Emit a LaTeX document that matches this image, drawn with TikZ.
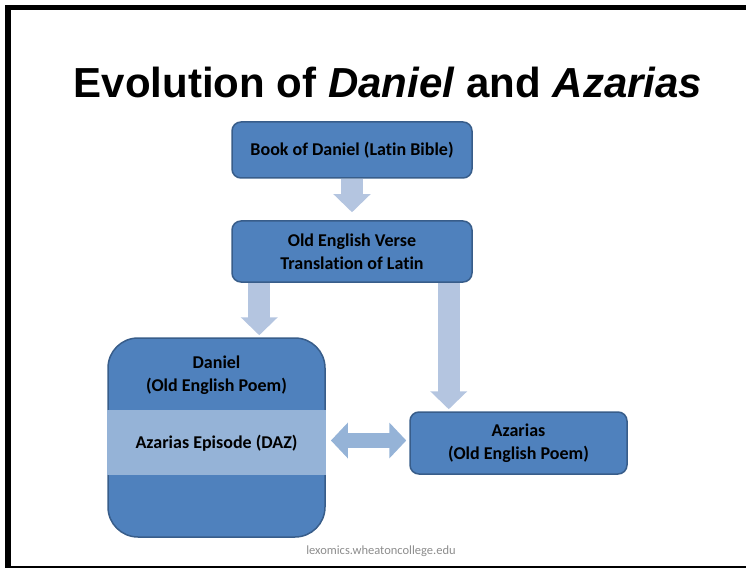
\documentclass[tikz,border=0pt]{standalone}
\usepackage{fontspec}
\setmainfont{Carlito}[Ligatures=NoCommon]
\newfontfamily\titlefont{Liberation Sans}
\usetikzlibrary{arrows.meta, positioning, calc}

\definecolor{boxblue}{HTML}{4F81BD}
\definecolor{boxline}{HTML}{385D8A}
\definecolor{bandblue}{HTML}{95B3D7}
\definecolor{arrowblue}{HTML}{B4C5E0}
\definecolor{footgray}{HTML}{8C8C8C}

\tikzset{
	boxfont/.style={font=\fontsize{18}{23}\selectfont\bfseries},
	box/.style={draw=boxline, fill=boxblue, line width=1.5pt, rounded corners=9pt,
		align=center, boxfont, inner sep=0pt},
	bigarrow/.style={draw=arrowblue, line width=22pt, -{Triangle[width=36pt,length=18pt]}},
	twoarrow/.style={draw=bandblue, line width=15pt,
		{Triangle[width=35pt,length=17pt]}-{Triangle[width=35pt,length=17pt]}}
}

\begin{document}
\begin{tikzpicture}[x=1pt, y=-1pt]
		\useasboundingbox (0,0) rectangle (746,569);
		
		% Frame
		\fill (5,5) rectangle (746,10.5);
		\fill (5,5) rectangle (11,567);
		\draw[line width=1.5pt] (5,567) -- (746,567);
		
		% Title
		\node (title) at (388,82) {\titlefont\fontsize{42}{50}\selectfont\bfseries Evolution of \textit{Daniel} and \textit{Azarias}};
		
		% Boxes
		\node[box, minimum width=240pt, minimum height=56pt] (latin) at (352,150) {Book of Daniel (Latin Bible)};
		\node[box, minimum width=240pt, minimum height=61pt] (verse) at (352,251.5) {Old English Verse\\Translation of Latin};
		\node[box, rounded corners=30pt, minimum width=217pt, minimum height=199pt] (daniel) at (216.5,437.5) {};
		\node[fill=bandblue, minimum width=218.5pt, minimum height=65pt, inner sep=0pt] (daz) at (216.5,442.5) {};
		\node[align=center, boxfont] (danieltext) at (216.5,375) {Daniel\\(Old English Poem)};
		\node[boxfont] (daztext) at (216.5,443) {Azarias Episode (DAZ)};
		\node[box, minimum width=217pt, minimum height=62pt] (azarias) at (518.5,443) {Azarias\\(Old English Poem)};
		
		% Arrows
		\coordinate (leftfoot) at ($(verse.south west)+(28,0)$);
		\coordinate (rightfoot) at ($(verse.south east)+(-24,0)$);
		\draw[bigarrow, shorten >=8pt] (latin.south) -- (verse.north);
		\draw[bigarrow, shorten >=2pt] (leftfoot) -- (leftfoot |- daniel.north);
		\draw[bigarrow, shorten >=2pt] (rightfoot) -- (rightfoot |- azarias.north);
		\draw[twoarrow, shorten <=5pt, shorten >=3pt] ($(daz.east)+(0,-2)$) -- ($(daz.east -| azarias.west)+(0,-2)$);
		
		% Footer
		\node[text=footgray, font=\fontsize{12.5}{14}\selectfont] (footer) at (381,551) {lexomics.wheatoncollege.edu};
	\end{tikzpicture}
\end{document}
